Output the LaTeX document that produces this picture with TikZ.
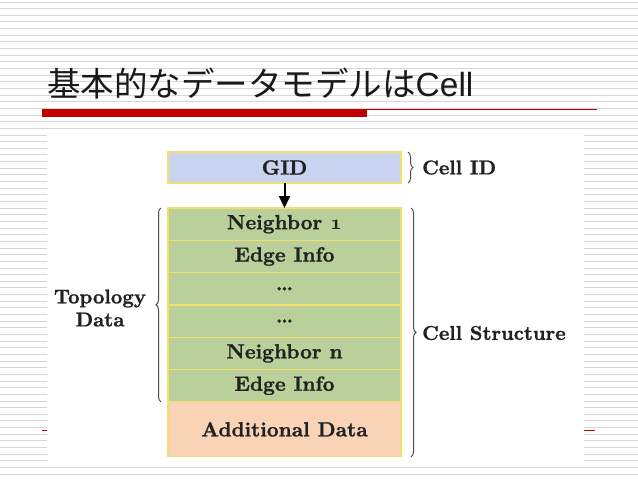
\documentclass[tikz,border=0pt]{standalone}
\usepackage{fontspec}
\newfontfamily\jpfont{Noto Sans CJK JP}
\newfontfamily\latinfont{Liberation Sans}
\newfontfamily\lblfont{lmroman10-bold.otf}[FakeBold=1.1]
\usetikzlibrary{positioning,decorations.pathreplacing,arrows.meta}
\definecolor{stripegray}{HTML}{D6D6D6}
\definecolor{titlered}{HTML}{C00000}
\definecolor{gidblue}{HTML}{C9D5F0}
\definecolor{topogreen}{HTML}{BAD09A}
\definecolor{addpeach}{HTML}{F8D3B6}
\definecolor{rowedge}{HTML}{F2E06A}
\definecolor{labelink}{HTML}{222222}
\newcommand\oldone{{\fontencoding{OML}\fontfamily{cmm}\fontseries{b}\fontshape{it}\selectfont 1}}
\tikzset{
  cellrow/.style={draw=rowedge, line width=1.2pt, fill=topogreen, outer sep=0pt,
    minimum width=233pt, minimum height=32.3pt, inner sep=0pt,
    font=\fontsize{20.5}{20.5}\selectfont\lblfont, text=labelink},
  bracelbl/.style={font=\fontsize{20}{23}\selectfont\lblfont, text=labelink, inner sep=0pt},
  curly/.style={draw=black!70, line width=1pt, decorate, decoration={brace, amplitude=5pt}},
}
\begin{document}
\begin{tikzpicture}[x=1pt,y=-1pt]
  \useasboundingbox (0,0) rectangle (638,479);
  \fill[white] (0,0) rectangle (638,479);
  \foreach \k in {0,...,71}
    \draw[stripegray, line width=1pt] (0,2+\k*6.65) -- (638,2+\k*6.65);
  % title and rules
  \node[anchor=base west, inner sep=0pt, text=black!90] (title) at (47,96)
    {\fontsize{33.5}{33.5}\selectfont\jpfont 基本的なデータモデルは\latinfont Cell};
  \fill[titlered] (42,109) rectangle (367,117);
  \draw[titlered, line width=1pt] (367,109.5) -- (597,109.5);
  \draw[titlered, line width=1pt] (42,430) -- (595,430);
  \fill[white] (47,129) rectangle (584,461);
  % cell layout
  \node[cellrow, fill=gidblue, minimum height=31pt] (gid) at (284.5,167.5) {GID};
  \node[cellrow, anchor=north] (nb1) at (284.5,208) {Neighbor \oldone};
  \node[cellrow, below=0pt of nb1] (edge1) {Edge Info};
  \node[cellrow, below=0pt of edge1] (dots1) {\dots};
  \node[cellrow, below=0pt of dots1] (dots2) {\dots};
  \node[cellrow, below=0pt of dots2] (nbn) {Neighbor n};
  \node[cellrow, below=0pt of nbn] (edgen) {Edge Info};
  \node[cellrow, fill=addpeach, minimum height=55pt, below=0pt of edgen] (extra) {Additional Data};
  \draw[-{Triangle[length=12pt,width=11pt]}, line width=2pt] (gid.south) -- (nb1.north);
  % braces
  \draw[curly] ([xshift=7pt]gid.north east) -- ([xshift=7pt]gid.south east);
  \node[bracelbl, anchor=west] (cellid) at ([xshift=21pt]gid.east) {Cell ID};
  \draw[curly] ([xshift=10pt]nb1.north east) -- ([xshift=10pt]extra.south east);
  \node[bracelbl, anchor=west] (cellstruct) at (422,333) {Cell Structure};
  \draw[curly] ([xshift=-7pt]edgen.south west) -- ([xshift=-7pt]nb1.north west);
  \node[bracelbl, align=center] (topo) at (100,308) {Topology\\Data};
\end{tikzpicture}
\end{document}
